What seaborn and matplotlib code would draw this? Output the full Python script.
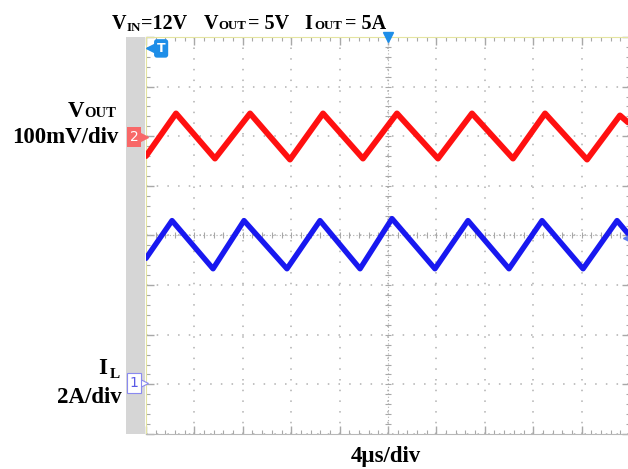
import numpy as np
import pandas as pd
import matplotlib
matplotlib.use("Agg")
import matplotlib.pyplot as plt
import seaborn as sns
from matplotlib.ticker import MultipleLocator
from matplotlib.patches import Rectangle

# time in us (4 us/div, 0 = trigger at screen centre), level in divisions
vout_t = [-20.0, -17.52, -14.30, -11.40, -8.10, -5.37, -2.07, 0.74, 4.13, 6.94, 10.33, 12.98, 16.45, 19.17, 19.83]
vout_y = [1.60, 2.46, 1.55, 2.46, 1.53, 2.46, 1.55, 2.46, 1.55, 2.46, 1.55, 2.46, 1.53, 2.42, 2.28]
il_t = [-20.0, -17.85, -14.46, -11.90, -8.35, -5.62, -2.31, 0.33, 3.88, 6.61, 10.00, 12.73, 16.12, 18.93, 19.83]
il_y = [-0.46, 0.30, -0.67, 0.30, -0.67, 0.30, -0.67, 0.34, -0.67, 0.30, -0.67, 0.30, -0.67, 0.30, 0.04]

vout = pd.DataFrame({"t": vout_t, "y": vout_y})
il = pd.DataFrame({"t": il_t, "y": il_y})

sns.set_style("white")
plt.rcParams["font.family"] = ["Liberation Serif", "DejaVu Serif"]

W, H = 628, 469
fig = plt.figure(figsize=(W / 100, H / 100), dpi=100)
ax = fig.add_axes([146 / W, 1 - 434 / H, 484 / W, 397 / H])

def px(x, y):
    return x / W, 1 - y / H

# grid of dots
ax.set_xlim(-20, 20)
ax.set_ylim(-4, 4)
ax.xaxis.set_major_locator(MultipleLocator(4))
ax.yaxis.set_major_locator(MultipleLocator(1))
ax.xaxis.set_minor_locator(MultipleLocator(0.8))
ax.yaxis.set_minor_locator(MultipleLocator(0.2))
ax.grid(True, which="major", color="#b0b0b0", linestyle=(0, (1, 6)), linewidth=1.1)
ax.tick_params(which="both", direction="in", top=True, right=True, bottom=True, left=True,
               labelbottom=False, labelleft=False, color="#a8a8a8")
ax.tick_params(which="major", length=6, width=1)
ax.tick_params(which="minor", length=3, width=0.8)
for s in ["bottom", "right"]:
    ax.spines[s].set_color("#b8b8b8")
for s in ["top", "left"]:
    ax.spines[s].set_color("#e4e4a0")

# centre crosshair with sub-division ticks
ax.axhline(0, color="#b0b0b0", lw=0.8, ls=(0, (1, 2)), zorder=1)
ax.axvline(0, color="#b0b0b0", lw=0.8, ls=(0, (1, 2)), zorder=1)
sub_x = np.arange(-20, 20.01, 0.8)
sub_y = np.arange(-4, 4.01, 0.2)
ax.plot(sub_x, np.zeros_like(sub_x), ls="none", marker="|", ms=5, mew=0.8, color="#a8a8a8", zorder=1)
ax.plot(np.zeros_like(sub_y), sub_y, ls="none", marker="_", ms=5, mew=0.8, color="#a8a8a8", zorder=1)

sns.lineplot(data=vout, x="t", y="y", color="#ff1010", linewidth=4.2, sort=False, ax=ax, zorder=3)
sns.lineplot(data=il, x="t", y="y", color="#1818f0", linewidth=3.9, sort=False, ax=ax, zorder=3)
ax.set_xlabel("")
ax.set_ylabel("")

# grey strip left of screen
fig.add_artist(Rectangle(px(126, 434), 19 / W, 397 / H, transform=fig.transFigure,
                         facecolor="#d6d6d6", edgecolor="none"))

# trigger markers
ax.plot([0], [4], marker="v", ms=7, color="#1e8ee8", clip_on=False, zorder=5)
ax.plot([-19.5], [3.77], marker="<", ms=8, color="#1e8ee8", clip_on=False, zorder=5)
ax.text(-18.75, 3.77, "T", color="white", fontsize=9, fontweight="bold", family="DejaVu Sans",
        ha="center", va="center", zorder=6,
        bbox=dict(boxstyle="round,pad=0.22", fc="#1e8ee8", ec="none"))
ax.plot([19.75], [-0.05], marker="<", ms=6, color="#5a7cf0", clip_on=False, zorder=5)

# channel markers
fig.text(*px(134, 137), "2", color="white", fontsize=10, family="DejaVu Sans", ha="center", va="center",
         bbox=dict(boxstyle="square,pad=0.2", fc="#f86868", ec="none"))
fig.add_artist(plt.Line2D([142 / W], [1 - 137 / H], marker=">", ms=9, color="#f86868", transform=fig.transFigure))
fig.text(*px(134, 383), "1", color="#5a5ae6", fontsize=10, family="DejaVu Sans", ha="center", va="center",
         bbox=dict(boxstyle="square,pad=0.2", fc="white", ec="#8a8af0", lw=0.8))
fig.add_artist(plt.Line2D([142 / W], [1 - 383 / H], marker=">", ms=9, mfc="white", mec="#8a8af0",
                          mew=0.8, transform=fig.transFigure))

# labels
big, small = 14.5, 9.3
kw = dict(fontweight="bold", va="baseline", color="black")
fig.text(*px(112, 29), "V", fontsize=big, **kw)
fig.text(*px(126.5, 31), "IN", fontsize=small, **kw)
fig.text(*px(140.5, 29), "=12V", fontsize=big, **kw)
fig.text(*px(204, 29), "V", fontsize=big, **kw)
fig.text(*px(218.5, 29), "OUT", fontsize=small, **kw)
fig.text(*px(248.5, 29), "= 5V", fontsize=big, **kw)
fig.text(*px(304, 29), "I", fontsize=big, **kw)
fig.text(*px(314, 29), "OUT", fontsize=small, **kw)
fig.text(*px(345, 29), "= 5A", fontsize=big, **kw)

fig.text(*px(68, 117), "V", fontsize=16.5, **kw)
fig.text(*px(84, 117), "OUT", fontsize=10.5, **kw)
fig.text(*px(118, 143), "100mV/div", fontsize=16.5, ha="right", **kw)
fig.text(*px(98, 374), "I", fontsize=16.5, **kw)
fig.text(*px(110, 378), "L", fontsize=11, **kw)
fig.text(*px(122, 403), "2A/div", fontsize=16.5, ha="right", **kw)
fig.text(*px(386, 462), "4\u00b5s/div", fontsize=16.5, ha="center", **kw)

fig.savefig("out.png", dpi=100)
